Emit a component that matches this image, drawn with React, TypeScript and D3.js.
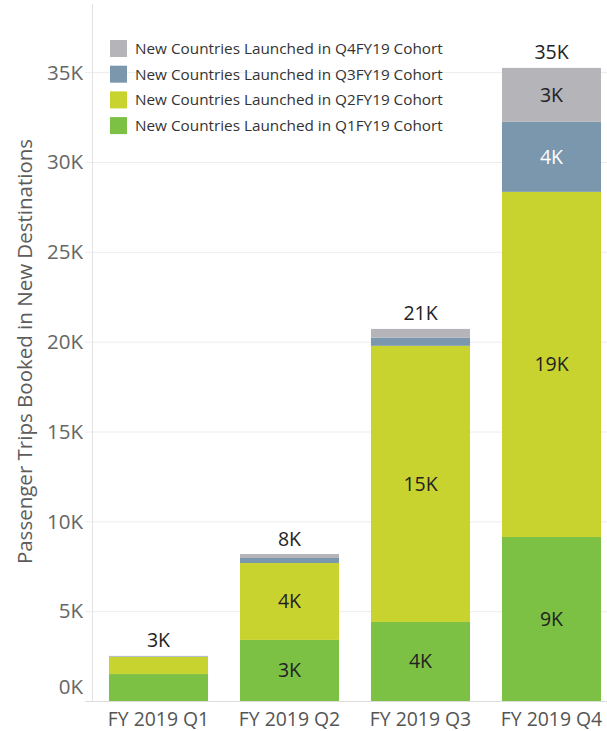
import React from "react";
import * as d3 from "d3";

const categories = ["FY 2019 Q1", "FY 2019 Q2", "FY 2019 Q3", "FY 2019 Q4"];
const seriesNames = [
  "New Countries Launched in Q1FY19 Cohort",
  "New Countries Launched in Q2FY19 Cohort",
  "New Countries Launched in Q3FY19 Cohort",
  "New Countries Launched in Q4FY19 Cohort",
];
const q1Cohort = [1.5, 3.4, 4.4, 9.13];
const q2Cohort = [0.95, 4.28, 15.37, 19.21];
const q3Cohort = [0.03, 0.28, 0.46, 3.9];
const q4Cohort = [0.03, 0.22, 0.48, 3.0];
const seriesColors = ["#7cc144", "#c9d32f", "#7a97ae", "#b4b4b9"];
const labelColors = ["#222", "#222", "#fff", "#222"];
const yTicks = [0, 5, 10, 15, 20, 25, 30, 35];

const W = 607;
const H = 731;

export default function App() {
  const seriesValues = [q1Cohort, q2Cohort, q3Cohort, q4Cohort];
  const rows = categories.map((c, i) => {
    const r: any = { cat: c };
    seriesValues.forEach((s, j) => (r["s" + j] = s[i]));
    return r;
  });
  const keys = seriesValues.map((_, j) => "s" + j);
  const stacked = d3.stack().keys(keys)(rows);

  const x = d3.scaleBand().domain(categories).range([93, 617]).paddingInner(0.244).paddingOuter(0.122);
  const y = d3.scaleLinear().domain([0, 35]).range([701, 72.2]);
  const font = "'Open Sans', sans-serif";
  const fmt = (v: number) => Math.round(v) + "K";
  const cap = (fs: number) => fs * 0.357;

  const legendOrder = [3, 2, 1, 0];
  const barFs = 19.5;
  const tickFs = 20.5;
  const xFs = 19.4;
  const legFs = 15.3;

  return (
    <svg width={W} height={H} style={{ position: "absolute", left: 0, top: 0, background: "#fff" }} fontFamily={font}>
      {yTicks.map((t) => (
        <line key={"g" + t} x1={85} x2={W} y1={y(t) + 0.5} y2={y(t) + 0.5} stroke={t === 0 ? "#dcdcdc" : "#ececec"} strokeWidth={1} />
      ))}
      <line x1={92.5} x2={92.5} y1={4} y2={702} stroke="#e2e2e2" />
      {yTicks.map((t) => (
        <text key={"t" + t} x={83} y={(t === 0 ? y(t) - 14 : y(t)) + cap(tickFs)} textAnchor="end" fontSize={tickFs} fill="#666">
          {t + "K"}
        </text>
      ))}
      <text transform={`translate(32, 351.5) rotate(-90)`} textAnchor="middle" fontSize={20.5} fill="#5c5c5c">
        Passenger Trips Booked in New Destinations
      </text>
      {stacked.map((layer, j) =>
        layer.map((d, i) => (
          <rect
            key={`b${j}-${i}`}
            x={x(categories[i])}
            width={x.bandwidth()}
            y={y(d[1])}
            height={Math.max(0, y(d[0]) - y(d[1]))}
            fill={seriesColors[j]}
          />
        ))
      )}
      {stacked.map((layer, j) =>
        layer.map((d, i) => {
          const h = y(d[0]) - y(d[1]);
          if (h < 40) return null;
          return (
            <text
              key={`l${j}-${i}`}
              x={(x(categories[i]) as number) + x.bandwidth() / 2}
              y={(y(d[0]) + y(d[1])) / 2 + cap(barFs)}
              textAnchor="middle"
              fontSize={barFs}
              fill={labelColors[j]}
            >
              {fmt(d[1] - d[0])}
            </text>
          );
        })
      )}
      {categories.map((c, i) => {
        const tot = seriesValues.reduce((a, s) => a + s[i], 0);
        return (
          <text
            key={"tot" + i}
            x={(x(c) as number) + x.bandwidth() / 2}
            y={y(tot) - 15.5 + cap(barFs)}
            textAnchor="middle"
            fontSize={barFs}
            fill="#222"
          >
            {fmt(tot)}
          </text>
        );
      })}
      {categories.map((c) => (
        <text
          key={"x" + c}
          x={(x(c) as number) + x.bandwidth() / 2}
          y={719.5 + cap(xFs)}
          textAnchor="middle"
          fontSize={xFs}
          fill="#555"
        >
          {c}
        </text>
      ))}
      {legendOrder.map((j, k) => (
        <g key={"lg" + j} transform={`translate(110, ${40 + k * 25.7})`}>
          <rect width={17} height={17} fill={seriesColors[j]} />
          <text x={25} y={8.5 + cap(legFs)} fontSize={legFs} fill="#333">
            {seriesNames[j]}
          </text>
        </g>
      ))}
    </svg>
  );
}
